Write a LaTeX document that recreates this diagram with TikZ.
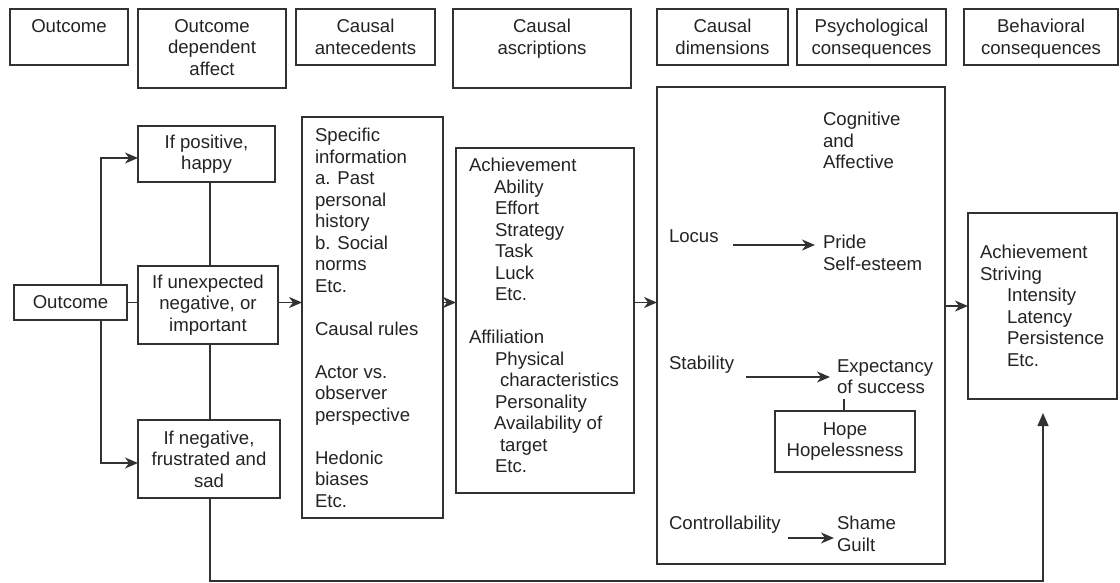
\documentclass[tikz,border=0pt]{standalone}
\usepackage{fontspec}
\setmainfont{Liberation Sans}
\usetikzlibrary{arrows.meta,fit}
\definecolor{linec}{RGB}{50,50,50}
\definecolor{textc}{RGB}{35,35,35}
\tikzset{
  box/.style={draw=linec, line width=1.4pt, inner sep=0pt, outer sep=0pt, rectangle},
  txt/.style={inner sep=0pt, outer sep=0pt, text=textc, font=\fontsize{18.6}{21.5}\selectfont},
  conn/.style={draw=linec, line width=1.4pt},
  arr/.style={conn, -{Stealth[length=13pt,width=11pt,inset=4pt]}},
  arrbig/.style={conn, -{Triangle[length=13pt,width=11pt]}}
}
\begin{document}
\begin{tikzpicture}[x=1pt,y=-1pt]
\useasboundingbox (0,0) rectangle (1120,583);
% header row
\node[box, fit={(10,9) (128,65)}] (h1) {};
\node[box, fit={(138,9) (286,88)}] (h2) {};
\node[box, fit={(296,9) (435,65)}] (h3) {};
\node[box, fit={(453,9) (631,88)}] (h4) {};
\node[box, fit={(657,9) (788,65)}] (h5) {};
\node[box, fit={(797,9) (946,65)}] (h6) {};
\node[box, fit={(964,9) (1118,65)}] (h7) {};
\node[txt, anchor=north, align=center] (h1t) at (h1.center |- 0,19.5) {Outcome};
\node[txt, anchor=north, align=center] (h2t) at (h2.center |- 0,19.5) {Outcome\\dependent\\affect};
\node[txt, anchor=north, align=center] (h3t) at (h3.center |- 0,19.5) {Causal\\antecedents};
\node[txt, anchor=north, align=center] (h4t) at (h4.center |- 0,19.5) {Causal\\ascriptions};
\node[txt, anchor=north, align=center] (h5t) at (h5.center |- 0,19.5) {Causal\\dimensions};
\node[txt, anchor=north, align=center] (h6t) at (h6.center |- 0,19.5) {Psychological\\consequences};
\node[txt, anchor=north, align=center] (h7t) at (h7.center |- 0,19.5) {Behavioral\\consequences};
% left column
\node[box, fit={(14,285) (127,320)}] (outc) {};
\node[txt] (outct) at (outc.center) {Outcome};
\node[box, fit={(138,126) (275,182)}] (happy) {};
\node[txt, align=center] (happyt) at (happy.center) {If positive,\\happy};
\node[box, fit={(138,266) (278,344)}] (unexp) {};
\node[txt, align=center] (unexpt) at (unexp.center) {If unexpected\\negative, or\\important};
\node[box, fit={(138,420) (280,498)}] (sad) {};
\node[txt, align=center] (sadt) at (sad.center) {If negative,\\frustrated and\\sad};
% antecedents
\node[box, fit={(302,117) (443,518)}] (ante) {};
\node[txt, anchor=north west, align=left] (antet) at (315,128.5) {Specific\\information\\a. Past\\personal\\history\\b. Social\\norms\\Etc.\\[21.5pt]Causal rules\\[21.5pt]Actor vs.\\observer\\perspective\\[21.5pt]Hedonic\\biases\\Etc.};
% ascriptions
\node[box, fit={(456,148) (634,493)}] (ascr) {};
\node[txt, anchor=north west, align=left] (ascrt) at (469,158.5) {Achievement\\\hspace*{25pt}Ability\\\hspace*{26pt}Effort\\\hspace*{26pt}Strategy\\\hspace*{26pt}Task\\\hspace*{26pt}Luck\\\hspace*{26pt}Etc.\\[21.5pt]Affiliation\\\hspace*{26pt}Physical\\\hspace*{31pt}characteristics\\\hspace*{26pt}Personality\\\hspace*{25pt}Availability of\\\hspace*{31pt}target\\\hspace*{26pt}Etc.};
% dimensions
\node[box, fit={(657,87) (945,564)}] (dims) {};
\node[txt, anchor=north west, align=left] (cog) at (823,112.5) {Cognitive\\and\\Affective};
\node[txt, anchor=base west] (locus) at (669,242) {Locus};
\node[txt, anchor=north west, align=left] (pride) at (823,235.5) {Pride\\Self-esteem};
\node[txt, anchor=base west] (stab) at (669,369) {Stability};
\node[txt, anchor=north west, align=left] (expec) at (837,359.5) {Expectancy\\of success};
\node[box, fit={(775,411) (915,472)}] (hope) {};
\node[txt, align=center] (hopet) at (hope.center) {Hope\\Hopelessness};
\node[txt, anchor=base west] (contr) at (669,529) {Controllability};
\node[txt, anchor=north west, align=left] (shame) at (837,516.5) {Shame\\Guilt};
\coordinate (la) at (733,245);
\coordinate (sa) at (746,377);
\coordinate (ca) at (788,538);
\draw[arr, shorten >=8pt] (la) -- (la -| pride.west);
\draw[arr, shorten >=7pt] (sa) -- (sa -| expec.west);
\draw[arr, shorten >=3pt] (ca) -- (ca -| shame.west);
\coordinate (ex) at (844,399);
\draw[conn] (ex) -- (ex |- hope.north);
% behavioural
\node[box, fit={(968,213) (1117,399)}] (ach) {};
\node[txt, anchor=north west, align=left] (acht) at (980,245.5) {Achievement\\Striving\\\hspace*{27pt}Intensity\\\hspace*{27pt}Latency\\\hspace*{27pt}Persistence\\\hspace*{27pt}Etc.};
% connectors
\coordinate (jn) at (101,302);
\coordinate (vx) at (210,0);
\draw[conn] (outc.east) -- (unexp.west |- outc.east);
\draw[arr] (jn |- outc.north) |- ([yshift=-4pt]happy.west);
\draw[arr] (jn |- outc.south) |- ([yshift=-4pt]sad.west);
\draw[conn] (vx |- happy.south) -- (vx |- unexp.north);
\draw[conn] (vx |- unexp.south) -- (vx |- sad.north);
\draw[arr] (unexp.east |- outc.east) -- (ante.west |- outc.east);
\draw[arr] (ante.east |- outc.east) -- (ascr.west |- outc.east);
\draw[arr] (ascr.east |- outc.east) -- (dims.west |- outc.east);
\draw[arr] (dims.east |- ach.center) -- (ach.west);
\coordinate (fb) at (1043,581);
\draw[arrbig] (vx |- sad.south) |- (fb) -- ([yshift=-14pt]fb |- ach.south);
\end{tikzpicture}
\end{document}
